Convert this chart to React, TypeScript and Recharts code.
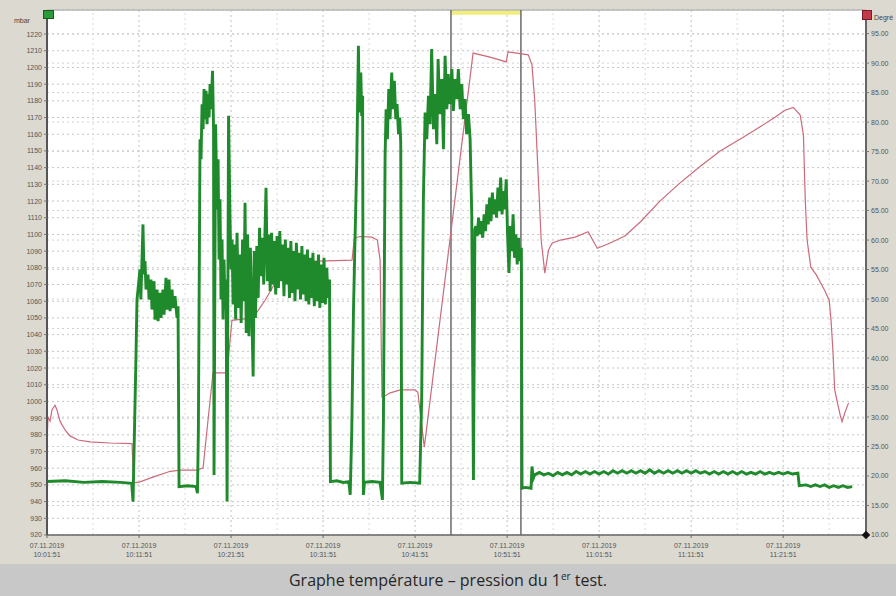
import React from "react"
import { LineChart, Line, XAxis, YAxis, CartesianGrid, ReferenceLine, ReferenceArea } from "recharts"

// time axis: minutes after 10:01:51
const timeTicks = [0, 10, 20, 30, 40, 50, 60, 70, 80]
const timeLabels = ["10:01:51", "10:11:51", "10:21:51", "10:31:51", "10:41:51", "10:51:51", "11:01:51", "11:11:51", "11:21:51"]
const dateLabel = "07.11.2019"
const minorTimes = [5, 15, 25, 35, 45, 55, 65, 75, 85]
const cursorTimes = [43.9, 51.5]

const mbarTicks = [920, 930, 940, 950, 960, 970, 980, 990, 1000, 1010, 1020, 1030, 1040, 1050, 1060, 1070, 1080, 1090, 1100, 1110, 1120, 1130, 1140, 1150, 1160, 1170, 1180, 1190, 1200, 1210, 1220]
const tempTicks = [10, 15, 20, 25, 30, 35, 40, 45, 50, 55, 60, 65, 70, 75, 80, 85, 90, 95]

// pressure (mbar)
const pressureRaw: [number, number][] = [
  [0, 952], [2, 952.5], [4, 951.5], [6, 952], [8, 951.5], [9.2, 951],
  [9.35, 940], [9.67, 1027], [9.78, 1061], [9.89, 1067], [10.1, 1079], [10.2, 1061], [10.43, 1106], [10.54, 1076],
  [10.65, 1084], [10.76, 1067], [10.98, 1076], [11.09, 1061], [11.3, 1073], [11.41, 1055], [11.63, 1072], [11.74, 1049],
  [11.96, 1067], [12.07, 1048], [12.28, 1065], [12.39, 1050], [12.6, 1067], [12.72, 1052], [12.93, 1074], [13.04, 1055],
  [13.26, 1073], [13.37, 1054], [13.59, 1067], [13.7, 1056], [13.91, 1063], [14.13, 1050], [14.24, 1057], [14.35, 949],
  [15.3, 949.5], [16.2, 949], [16.35, 945], [16.45, 983], [16.63, 1157], [16.74, 1145], [16.85, 1178], [16.96, 1163],
  [17.07, 1187], [17.17, 1169], [17.28, 1186], [17.39, 1166], [17.5, 1184], [17.61, 1170], [17.72, 1190], [17.83, 1175],
  [17.99, 1198], [18.1, 1163], [18.15, 956], [18.32, 1166], [18.48, 1115], [18.59, 1145], [18.7, 1085], [18.8, 1121],
  [18.91, 1061], [19.02, 1097], [19.13, 1049], [19.24, 1085], [19.35, 1055], [19.46, 1073], [19.57, 940], [19.73, 1171],
  [19.89, 1109], [20.0, 1079], [20.11, 1097],
  [20.22, 1058], [20.35, 1094], [20.5, 1049], [20.65, 1101], [20.8, 1056], [20.95, 1088], [21.1, 1047], [21.25, 1097],
  [21.4, 1060], [21.52, 1119], [21.65, 1041], [21.8, 1100], [21.95, 1039], [22.1, 1092], [22.25, 1055], [22.4, 1015],
  [22.52, 1090], [22.65, 1050], [22.8, 1093], [22.95, 1062], [23.1, 1104], [23.25, 1075], [23.4, 1098], [23.55, 1070],
  [23.8, 1128], [23.95, 1072], [24.1, 1100], [24.25, 1066], [24.4, 1101], [24.55, 1070], [24.7, 1096], [24.85, 1064],
  [25.0, 1099], [25.15, 1068], [25.3, 1102], [25.45, 1072], [25.6, 1094], [25.75, 1063], [25.9, 1097], [26.05, 1070],
  [26.2, 1092], [26.35, 1062], [26.5, 1096], [26.65, 1065], [26.8, 1090], [26.95, 1060], [27.1, 1095], [27.25, 1067],
  [27.4, 1089], [27.55, 1061], [27.7, 1093], [27.85, 1064], [28.0, 1088], [28.15, 1060], [28.3, 1091], [28.45, 1058],
  [28.6, 1086], [28.75, 1062], [28.9, 1089], [29.05, 1057], [29.2, 1084], [29.35, 1060], [29.5, 1088], [29.65, 1056],
  [29.8, 1082], [29.95, 1059], [30.1, 1086], [30.25, 1058], [30.4, 1080], [30.55, 1062], [30.7, 1073], [30.8, 952],
  [31.5, 952.5], [32.2, 951.5], [32.8, 952], [32.95, 944], [33.12, 983], [33.3, 1053], [33.48, 1099], [33.66, 1143],
  [33.84, 1213], [33.95, 1173], [34.1, 1197], [34.2, 1171], [34.3, 1183], [34.38, 944],
  [34.5, 951.5], [35.3, 952], [36.2, 951.5], [36.45, 941], [36.56, 989], [36.74, 1147], [36.85, 1175], [36.99, 1157],
  [37.14, 1187], [37.28, 1169], [37.46, 1197], [37.6, 1175], [37.75, 1192], [37.9, 1169], [38.04, 1178], [38.2, 1160],
  [38.33, 1170], [38.44, 1155], [38.55, 951],
  [39.5, 951.5], [40.5, 951], [40.72, 1003], [40.9, 1121], [41.09, 1173], [41.27, 1157], [41.45, 1183], [41.63, 1166],
  [41.8, 1211], [42.0, 1163], [42.17, 1184], [42.36, 1154], [42.5, 1205], [42.7, 1172], [42.9, 1193], [43.08, 1151],
  [43.26, 1207], [43.45, 1175], [43.6, 1196], [43.8, 1178], [44.0, 1199], [44.16, 1174], [44.35, 1193], [44.53, 1181],
  [44.7, 1199], [44.9, 1175], [45.07, 1190], [45.25, 1169], [45.43, 1181], [45.6, 1160], [45.8, 1172], [45.98, 1157],
  [46.16, 1111], [46.34, 953], [46.5, 1103],
  [46.6, 1105], [46.75, 1099], [46.9, 1110], [47.05, 1100], [47.2, 1108], [47.35, 1098], [47.5, 1112], [47.65, 1102],
  [47.8, 1118], [47.95, 1106], [48.1, 1122], [48.25, 1108], [48.4, 1125], [48.55, 1112], [48.7, 1121], [48.85, 1110],
  [49.0, 1128], [49.15, 1114], [49.3, 1134], [49.45, 1112], [49.6, 1126], [49.75, 1115], [49.9, 1133], [50.05, 1100],
  [50.2, 1077], [50.35, 1105], [50.5, 1090], [50.65, 1112], [50.8, 1086], [50.95, 1100], [51.1, 1082], [51.25, 1098],
  [51.4, 1084], [51.55, 1092], [51.62, 948],
  [52.0, 948.5], [52.6, 948], [52.7, 961], [52.85, 954], [53.0, 956], [53.5, 957.5], [54, 956], [54.5, 957], [55, 955.5],
  [55.5, 957.5], [56, 956], [56.5, 957.5], [57, 956], [57.5, 958], [58, 956.5], [58.5, 958], [59, 956.5], [59.5, 958],
  [60, 956.5], [60.5, 958], [61, 956.5], [61.5, 958.5], [62, 957], [62.5, 958.5], [63, 957], [63.5, 958.5], [64, 957],
  [64.5, 958.5], [65, 957], [65.5, 959], [66, 957], [66.5, 958.5], [67, 957], [67.5, 958.5], [68, 957], [68.5, 958.5],
  [69, 957], [69.5, 958.5], [70, 957], [70.5, 958.5], [71, 957], [71.5, 958], [72, 956.5], [72.5, 958], [73, 956.5],
  [73.5, 958], [74, 956.5], [74.5, 958], [75, 956.5], [75.5, 958], [76, 956.5], [76.5, 957.5], [77, 956.5], [77.5, 958],
  [78, 956.5], [78.5, 957.5], [79, 956.5], [79.5, 957.5], [80, 956.5], [80.5, 957.5], [81, 956.5], [81.6, 957],
  [81.75, 949.5], [82.5, 950], [83, 949], [83.5, 950], [84, 949], [84.5, 950], [85, 948.5], [85.5, 949.5], [86, 948.5],
  [86.5, 949.5], [87, 948.5], [87.5, 949],
]

// temperature (°C)
const temperatureRaw: [number, number][] = [
  [0, 25.6], [0.11, 30.0], [0.33, 29.3], [0.54, 31.2], [0.87, 32.0], [1.09, 31.2], [1.41, 29.3], [1.96, 27.8],
  [2.5, 26.8], [3.37, 26.1], [4.67, 25.8], [6.85, 25.6], [9.24, 25.5], [9.4, 18.8], [10.1, 19.0], [11.5, 19.8],
  [13.4, 20.8], [14.5, 21.0], [16.3, 21.0], [16.96, 21.4], [17.5, 29.5], [18.04, 37.5], [19.57, 37.5], [19.8, 41.4],
  [20.1, 46.4], [22.4, 46.8], [23.7, 49.8], [25.3, 54.1], [27.0, 56.3], [28.6, 56.4], [33.15, 56.6], [33.4, 60.3],
  [34.0, 60.6], [35.3, 60.5], [35.9, 60.0], [36.2, 56.6], [36.4, 33.4], [36.74, 33.6], [37.3, 34.1], [38.4, 34.6],
  [40.0, 34.6], [40.3, 34.2], [41.0, 24.9], [46.3, 91.7], [48.15, 91.0], [49.9, 90.2], [50.1, 91.9], [51.4, 91.6],
  [52.3, 91.4], [52.7, 89.7], [53.0, 83.7], [53.4, 70.2], [53.7, 60.0], [54.1, 54.4], [54.5, 58.3], [54.9, 59.5],
  [55.8, 60.0], [57.4, 60.5], [58.8, 61.4], [59.8, 58.6], [61.2, 59.5], [62.8, 60.7], [64.5, 63.1], [66.6, 66.6],
  [68.8, 69.7], [71.0, 72.5], [73.15, 75.1], [75.3, 77.1], [77.5, 79.2], [79.1, 80.8], [80.2, 82.0], [81.1, 82.5],
  [81.85, 81.2], [82.2, 77.8], [82.4, 66.8], [82.6, 60.0], [83.0, 55.4], [83.6, 54.1], [84.5, 51.5], [85.0, 49.8],
  [85.2, 46.4], [85.4, 41.4], [85.6, 34.6], [85.9, 32.4], [86.2, 30.3], [86.4, 29.2], [86.7, 30.7], [87.1, 32.4],
]

const pressure = pressureRaw.map(([t, mbar]) => ({ t, mbar }))
const temperature = temperatureRaw.map(([t, temp]) => ({ t, temp }))

const labelFont = "'Liberation Sans', Arial, sans-serif"

function TimeTick({ x, y, payload }: any) {
  const i = timeTicks.indexOf(payload.value)
  return (
    <g transform={`translate(${x},${y})`}>
      <text x={0} y={0} dy={8} textAnchor="middle" fontSize={7} fill="#555" fontFamily={labelFont}>
        {dateLabel}
      </text>
      <text x={0} y={0} dy={17} textAnchor="middle" fontSize={7} fill="#555" fontFamily={labelFont}>
        {timeLabels[i]}
      </text>
    </g>
  )
}

export default function App() {
  return (
    <div style={{ position: "relative", width: 896, height: 596, overflow: "hidden", background: "#dcd9d1" }}>
      <style>{"body{margin:0}"}</style>
      <LineChart width={896} height={565} margin={{ top: 10, right: 0, bottom: 0, left: 0 }}>
        <CartesianGrid yAxisId="left" fill="#ffffff" stroke="#c4c4c4" strokeDasharray="2 3" />
        <CartesianGrid yAxisId="right" vertical={false} stroke="#d0d0d0" strokeDasharray="2 3" />
        <XAxis
          dataKey="t"
          type="number"
          domain={[0, 89]}
          ticks={timeTicks}
          interval={0}
          height={30}
          tick={<TimeTick />}
          tickSize={3}
          axisLine={{ stroke: "#666", strokeWidth: 1.5 }}
          tickLine={{ stroke: "#666" }}
          allowDataOverflow
        />
        <YAxis
          yAxisId="left"
          orientation="left"
          width={47}
          domain={[920, 1234.4]}
          ticks={mbarTicks}
          interval={0}
          tickSize={3}
          tick={{ fontSize: 7, fill: "#555", fontFamily: labelFont }}
          axisLine={{ stroke: "#555", strokeWidth: 2 }}
          tickLine={{ stroke: "#777" }}
          allowDataOverflow
        />
        <YAxis
          yAxisId="right"
          orientation="right"
          width={30}
          domain={[10, 99]}
          ticks={tempTicks}
          interval={0}
          tickSize={3}
          tickFormatter={(v: number) => v.toFixed(2)}
          tick={{ fontSize: 7, fill: "#555", fontFamily: labelFont }}
          axisLine={{ stroke: "#666", strokeWidth: 2 }}
          tickLine={{ stroke: "#777" }}
          allowDataOverflow
        />
        {minorTimes.map((m) => (
          <ReferenceLine key={m} x={m} yAxisId="left" stroke="#dadada" strokeDasharray="2 3" />
        ))}
        <ReferenceLine y={1234.4} yAxisId="left" stroke="#b8b8b8" strokeWidth={1.5} />
        <ReferenceArea x1={cursorTimes[0]} x2={cursorTimes[1]} y1={1231.5} y2={1234.4} yAxisId="left" fill="#f2ee7c" fillOpacity={1} stroke="none" />
        {cursorTimes.map((c) => (
          <ReferenceLine key={c} x={c} yAxisId="left" stroke="#6a6a6a" strokeWidth={1.5} />
        ))}
        <Line
          yAxisId="right"
          data={temperature}
          dataKey="temp"
          type="linear"
          stroke="#cc6a7a"
          strokeWidth={1.2}
          dot={false}
          isAnimationActive={false}
        />
        <Line
          yAxisId="left"
          data={pressure}
          dataKey="mbar"
          type="linear"
          stroke="#1f8a2c"
          strokeWidth={2.9}
          strokeLinejoin="miter"
          dot={false}
          isAnimationActive={false}
        />
      </LineChart>
      <div style={{ position: "absolute", left: 14, top: 17, fontSize: 7, color: "#444", fontFamily: labelFont }}>mbar</div>
      <div style={{ position: "absolute", left: 43, top: 10, width: 9, height: 7, background: "#2a9a3a", border: "1px solid #1a5a20" }} />
      <div style={{ position: "absolute", left: 862, top: 10, width: 8, height: 8, background: "#c23a4a", border: "1px solid #7a1a2a" }} />
      <div style={{ position: "absolute", left: 874, top: 14, fontSize: 7, color: "#444", fontFamily: labelFont }}>Degré</div>
      <div style={{ position: "absolute", left: 863, top: 532, width: 6, height: 6, background: "#111", transform: "rotate(45deg)" }} />
      <div
        style={{
          position: "absolute",
          left: 0,
          top: 564,
          width: 896,
          height: 32,
          background: "#c8c8c8",
          display: "flex",
          alignItems: "center",
          justifyContent: "center",
          fontFamily: "'Open Sans', 'Noto Sans', sans-serif",
          fontSize: 16,
          color: "#262626",
        }}
      >
        <span>
          Graphe température – pression du 1<sup style={{ fontSize: 10, lineHeight: 0 }}>er</sup> test.
        </span>
      </div>
    </div>
  )
}
